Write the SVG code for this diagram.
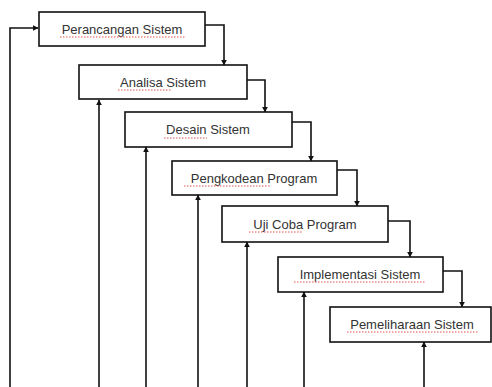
<svg xmlns="http://www.w3.org/2000/svg" width="492" height="387" viewBox="0 0 492 387">
<defs>
<marker id="ah" viewBox="0 0 10 10" refX="9" refY="5" markerWidth="6" markerHeight="6" markerUnits="userSpaceOnUse" orient="auto"><path d="M0,0 L10,5 L0,10 z" fill="#111"/></marker>
<style>
.box{fill:#fff;stroke:#111;stroke-width:1.6}
.lbl{font-family:"Liberation Sans",Arial,sans-serif;font-size:13px;fill:#333;text-anchor:middle}
.con{fill:none;stroke:#111;stroke-width:1.6;marker-end:url(#ah)}
.sq{stroke:#e05050;stroke-width:1;stroke-dasharray:1.5 1.5}
</style>
</defs>
<rect width="492" height="387" fill="#fff"/>
<g id="connectors">
<path class="con" d="M10,387 V28 H38"/>
<path class="con" d="M205,25 H224 V65"/>
<path class="con" d="M99,387 V100"/>
<path class="con" d="M247,80 H265 V112"/>
<path class="con" d="M146,387 V147"/>
<path class="con" d="M292,122 H311 V161"/>
<path class="con" d="M198,387 V195"/>
<path class="con" d="M337,170 H357 V206"/>
<path class="con" d="M247,387 V242"/>
<path class="con" d="M388,221 H410 V257"/>
<path class="con" d="M304,387 V292"/>
<path class="con" d="M443,271 H462 V307"/>
<path class="con" d="M424,387 V342"/>
</g>
<g id="n1"><rect class="box" x="39" y="12" width="166" height="34"/><text class="lbl" x="122" y="33.5">Perancangan Sistem</text><line class="sq" x1="60" y1="37" x2="185" y2="37"/></g>
<g id="n2"><rect class="box" x="79" y="65" width="168" height="34"/><text class="lbl" x="163" y="86.5">Analisa Sistem</text><line class="sq" x1="118" y1="90" x2="172" y2="90"/></g>
<g id="n3"><rect class="box" x="125" y="112" width="167" height="35"/><text class="lbl" x="208" y="134">Desain Sistem</text><line class="sq" x1="164" y1="138" x2="207" y2="138"/></g>
<g id="n4"><rect class="box" x="172" y="161" width="165" height="34"/><text class="lbl" x="254" y="182.5">Pengkodean Program</text><line class="sq" x1="184" y1="186" x2="270" y2="186"/></g>
<g id="n5"><rect class="box" x="222" y="206" width="166" height="36"/><text class="lbl" x="305" y="228.5">Uji Coba Program</text><line class="sq" x1="249" y1="232" x2="302" y2="232"/></g>
<g id="n6"><rect class="box" x="278" y="257" width="165" height="35"/><text class="lbl" x="360" y="279">Implementasi Sistem</text><line class="sq" x1="294" y1="282" x2="426" y2="282"/></g>
<g id="n7"><rect class="box" x="330" y="307" width="161" height="35"/><text class="lbl" x="412" y="329">Pemeliharaan Sistem</text><line class="sq" x1="347" y1="332" x2="478" y2="332"/></g>
</svg>
